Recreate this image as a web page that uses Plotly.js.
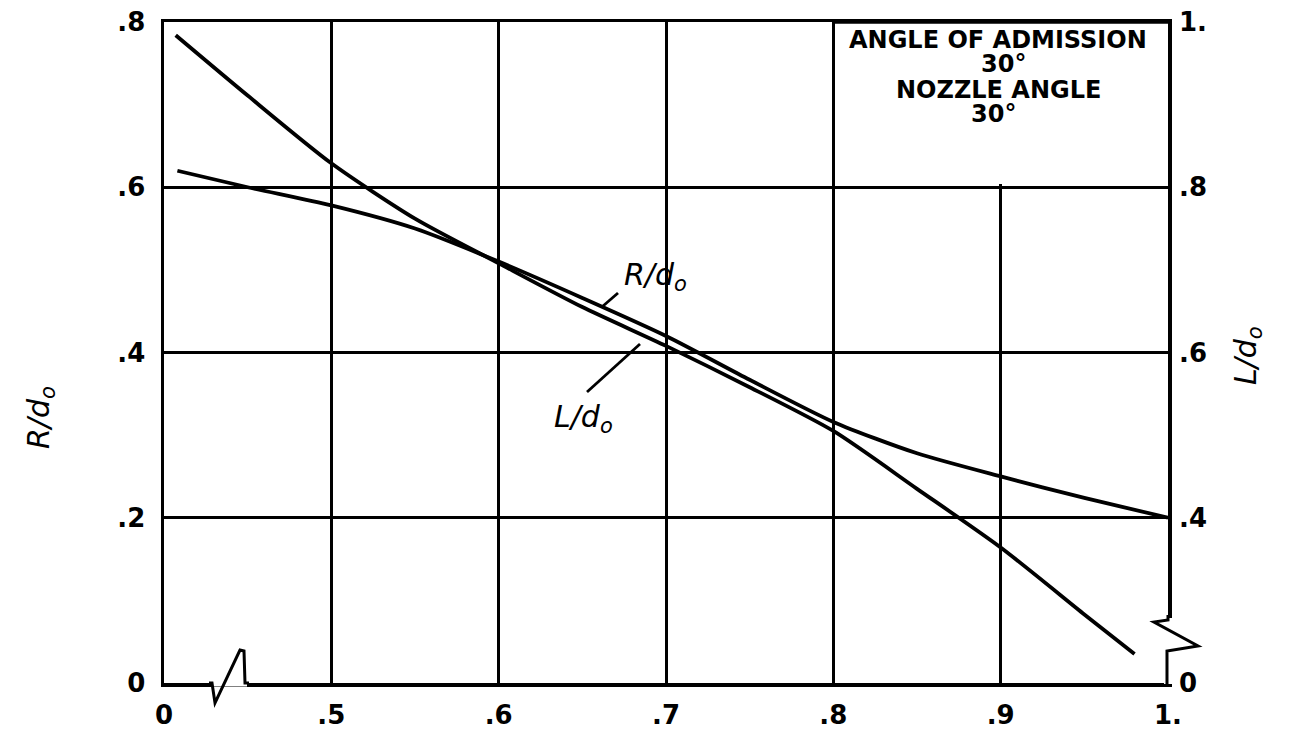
<!DOCTYPE html>
<html>
<head>
<meta charset="utf-8">
<script src="https://cdn.plot.ly/plotly-3.0.1.min.js"></script>
<style>html,body{margin:0;padding:0;background:#fff;}#chart{width:1291px;height:729px;}</style>
</head>
<body>
<div id="chart"></div>
<script>
// ---- data ----
// x axis is broken: left edge (0.4) is labelled "0"
const xTickVals = [0.4, 0.5, 0.6, 0.7, 0.8, 0.9, 1.0];
const xTickText = ["0", ".5", ".6", ".7", ".8", ".9", "1."];
const yTickVals = [0, 0.2, 0.4, 0.6, 0.8];
const yTickText = ["0", ".2", ".4", ".6", ".8"];
// right axis is broken: bottom (0.2) is labelled "0"
const y2TickVals = [0.2, 0.4, 0.6, 0.8, 1.0];
const y2TickText = ["0", ".4", ".6", ".8", "1."];

// R/d0 (left axis)
const xR = [0.408, 0.45, 0.5, 0.55, 0.6, 0.65, 0.7, 0.75, 0.8, 0.85, 0.9, 0.95, 1.0];
const R  = [0.620, 0.600, 0.578, 0.550, 0.510, 0.466, 0.420, 0.367, 0.316, 0.278, 0.250, 0.224, 0.200];
// L/d0 (right axis)
const xL = [0.407, 0.45, 0.5, 0.55, 0.6, 0.65, 0.7, 0.75, 0.8, 0.85, 0.9, 0.95, 0.98];
const L  = [0.984, 0.911, 0.829, 0.762, 0.708, 0.655, 0.608, 0.558, 0.505, 0.435, 0.364, 0.283, 0.235];

// ---- layout helpers (pixel -> paper) ----
const ML = 164, MR = 123, MT = 22, MB = 46, W = 1291, H = 729;
const PW = W - ML - MR, PH = H - MT - MB;
const fx = p => (p - ML) / PW;
const fy = p => (H - MB - p) / PH;
const path = pts => pts.map((p, i) => (i ? 'L' : 'M') + fx(p[0]).toFixed(5) + ',' + fy(p[1]).toFixed(5)).join(' ');

const FONT = "DejaVu Sans";
const tickFont = {family: FONT, size: 26, color: "#000", weight: "bold"};
const boxFont = {family: FONT, size: 24, color: "#000", weight: "bold"};

const traces = [
  {x: xR, y: R, type: "scatter", mode: "lines", name: "R/d0", yaxis: "y",
   line: {color: "#000", width: 3.8, shape: "spline", smoothing: 0.7}, hoverinfo: "skip"},
  {x: xL, y: L, type: "scatter", mode: "lines", name: "L/d0", yaxis: "y2",
   line: {color: "#000", width: 3.8, shape: "spline", smoothing: 0.7}, hoverinfo: "skip"}
];

const layout = {
  width: W, height: H,
  margin: {l: ML, r: MR, t: MT, b: MB, pad: 0},
  paper_bgcolor: "#fff", plot_bgcolor: "#fff",
  showlegend: false,
  xaxis: {range: [0.4, 1.0], tickvals: xTickVals, ticktext: xTickText,
    showgrid: true, gridcolor: "#000", gridwidth: 3, zeroline: false,
    showline: true, mirror: true, linecolor: "#000", linewidth: 3.5,
    ticks: "", tickfont: tickFont, ticklabelstandoff: 6},
  yaxis: {range: [0, 0.8], tickvals: yTickVals, ticktext: yTickText,
    showgrid: true, gridcolor: "#000", gridwidth: 3, zeroline: false,
    showline: true, mirror: true, linecolor: "#000", linewidth: 3.5,
    ticks: "", tickfont: tickFont, ticklabelstandoff: 10},
  yaxis2: {range: [0.2, 1.0], tickvals: y2TickVals, ticktext: y2TickText,
    overlaying: "y", side: "right", showgrid: false, zeroline: false, showline: false,
    ticks: "", tickfont: tickFont, ticklabelstandoff: 10},
  shapes: [
    // white box behind the legend text (hides .9 gridline there)
    {type: "rect", xref: "x", yref: "y", x0: 0.8025, x1: 0.9975, y0: 0.604, y1: 0.8,
     fillcolor: "#fff", line: {width: 0}, layer: "above"},
    // redraw top border over the box
    {type: "line", xref: "x", yref: "paper", x0: 0.8, x1: 1.0, y0: 1, y1: 1,
     line: {color: "#000", width: 3.5}, layer: "above"},
    // bottom-left axis break
    {type: "line", xref: "paper", yref: "paper", x0: fx(211), x1: fx(247), y0: 0, y1: 0,
     line: {color: "#fff", width: 7}, layer: "above"},
    {type: "path", xref: "paper", yref: "paper",
     path: path([[209, 683], [212, 683], [215, 703], [240, 650], [244, 651], [245, 683], [249, 683]]),
     line: {color: "#000", width: 3}, layer: "above"},
    // right axis break
    {type: "line", xref: "paper", yref: "paper", x0: 1, x1: 1, y0: fy(684), y1: fy(618),
     line: {color: "#fff", width: 8}, layer: "above"},
    {type: "path", xref: "paper", yref: "paper",
     path: path([[1168, 615], [1168, 620], [1154, 622], [1198, 646], [1167, 651], [1167, 684]]),
     line: {color: "#000", width: 3}, layer: "above"},
    // leader lines for curve labels
    {type: "line", xref: "paper", yref: "paper", x0: fx(603), y0: fy(306), x1: fx(618), y1: fy(293),
     line: {color: "#000", width: 2.8}, layer: "above"},
    {type: "line", xref: "paper", yref: "paper", x0: fx(587), y0: fy(392), x1: fx(640), y1: fy(344),
     line: {color: "#000", width: 2.8}, layer: "above"}
  ],
  annotations: [
    {text: "ANGLE OF ADMISSION", xref: "paper", yref: "paper", x: fx(998), y: fy(40), showarrow: false,
     font: boxFont, xanchor: "center", yanchor: "middle"},
    {text: "30°", xref: "paper", yref: "paper", x: fx(1003), y: fy(64), showarrow: false,
     font: boxFont, xanchor: "center", yanchor: "middle"},
    {text: "NOZZLE ANGLE", xref: "paper", yref: "paper", x: fx(998), y: fy(90), showarrow: false,
     font: boxFont, xanchor: "center", yanchor: "middle"},
    {text: "30°", xref: "paper", yref: "paper", x: fx(993), y: fy(114), showarrow: false,
     font: boxFont, xanchor: "center", yanchor: "middle"},
    // curve labels
    {text: "<i>R/d<sub>o</sub></i>", xref: "paper", yref: "paper", x: fx(655), y: fy(276), showarrow: false,
     font: {family: FONT, size: 30, color: "#000"}, xanchor: "center", yanchor: "middle"},
    {text: "<i>L/d<sub>o</sub></i>", xref: "paper", yref: "paper", x: fx(583), y: fy(418), showarrow: false,
     font: {family: FONT, size: 30, color: "#000"}, xanchor: "center", yanchor: "middle"},
    // axis titles
    {text: "<i>R/d<sub>o</sub></i>", xref: "paper", yref: "paper", x: fx(40), y: fy(418), showarrow: false,
     textangle: -90, font: {family: FONT, size: 30, color: "#000"}, xanchor: "center", yanchor: "middle"},
    {text: "<i>L/d<sub>o</sub></i>", xref: "paper", yref: "paper", x: fx(1247), y: fy(356), showarrow: false,
     textangle: -90, font: {family: FONT, size: 30, color: "#000"}, xanchor: "center", yanchor: "middle"}
  ]
};

Plotly.newPlot("chart", traces, layout, {staticPlot: true, displayModeBar: false});
</script>
</body>
</html>
